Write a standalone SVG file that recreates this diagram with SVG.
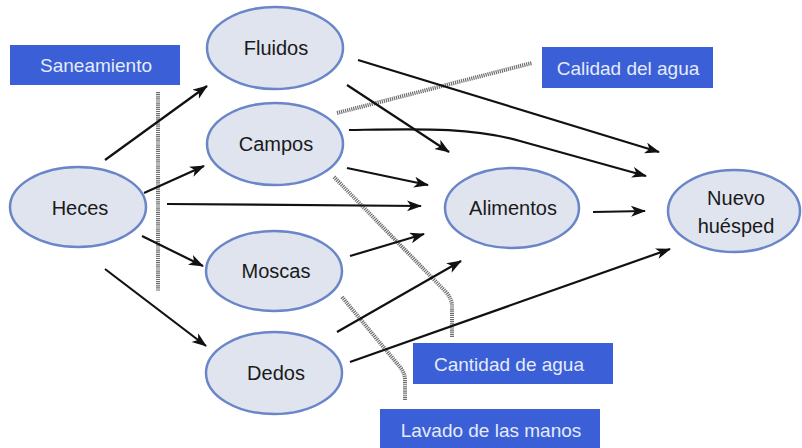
<svg xmlns="http://www.w3.org/2000/svg" width="802" height="448" viewBox="0 0 802 448">
<defs>
<marker id="ah" markerUnits="userSpaceOnUse" markerWidth="16" markerHeight="12" refX="14" refY="5.5" orient="auto">
<path d="M0,0 L15,5.5 L0,11 L4,5.5 z" fill="#111"/>
</marker>
<style>
.node ellipse{fill:#dfe4ee;stroke:#6a86c8;stroke-width:2.5}
.node text{font-family:"Liberation Sans",Arial,sans-serif;font-size:20px;fill:#1a1a1a;text-anchor:middle}
.box rect{fill:#3b5fd6}
.box text{font-family:"Liberation Sans",Arial,sans-serif;font-size:19px;fill:#e4ebfa;text-anchor:middle}
.hatch{fill:none;stroke:#6e6e6e;stroke-width:4;stroke-dasharray:1.2 0.9}
.arr{fill:none;stroke:#111;stroke-width:2.2;marker-end:url(#ah)}
</style>
</defs>
<rect width="802" height="448" fill="#ffffff"/>

<g id="barriers">
<path class="hatch" d="M158,92 L158,291"/>
<path class="hatch" d="M337,113 L532,63"/>
<path class="hatch" d="M334,177 L446,292 Q452,299 452,306 L452,337"/>
<path class="hatch" d="M342,297 L400,367 Q405,373 405,380 L405,400"/>
<path class="hatch" d="M281,232 L286,247" style="stroke-width:3;stroke:#555"/>
</g>

<g id="labels">
<g id="saneamiento" class="box"><rect x="10" y="45" width="170" height="40"/><text x="96" y="72">Saneamiento</text></g>
<g id="calidad" class="box"><rect x="542" y="47" width="171" height="41"/><text x="628" y="75">Calidad del agua</text></g>
<g id="cantidad" class="box"><rect x="413" y="343" width="200" height="41"/><text x="509" y="371">Cantidad de agua</text></g>
<g id="lavado" class="box"><rect x="380" y="409" width="220" height="45"/><text x="491" y="437">Lavado de las manos</text></g>
</g>

<g id="connectors">
<path class="arr" d="M105,160 L207,86"/>
<path class="arr" d="M144,193 L204,166"/>
<path class="arr" d="M167,204 L421,206"/>
<path class="arr" d="M142,236 L203,266"/>
<path class="arr" d="M105,269 L206,346"/>
<path class="arr" d="M358,60 L659,152"/>
<path class="arr" d="M347,85 L449,152"/>
<path class="arr" d="M349,130 C420,129 470,127 520,141 L646,176"/>
<path class="arr" d="M347,168 L428,185"/>
<path class="arr" d="M350,256 L424,234"/>
<path class="arr" d="M337,332 L461,261"/>
<path class="arr" d="M350,362 L670,249"/>
<path class="arr" d="M593,212 L645,211"/>
</g>

<g id="heces" class="node"><ellipse cx="78" cy="207" rx="68" ry="40"/><text x="80" y="215">Heces</text></g>
<g id="fluidos" class="node"><ellipse cx="275" cy="48" rx="68" ry="41"/><text x="276" y="55">Fluidos</text></g>
<g id="campos" class="node"><ellipse cx="275" cy="144" rx="68" ry="41"/><text x="276" y="151">Campos</text></g>
<g id="moscas" class="node"><ellipse cx="274" cy="271" rx="68" ry="40"/><text x="276" y="278">Moscas</text></g>
<g id="dedos" class="node"><ellipse cx="274" cy="373" rx="68" ry="41"/><text x="276" y="380">Dedos</text></g>
<g id="alimentos" class="node"><ellipse cx="512" cy="208" rx="67" ry="40"/><text x="513" y="215">Alimentos</text></g>
<g id="nuevo" class="node"><ellipse cx="734" cy="211" rx="66" ry="41"/><text x="736" y="205">Nuevo</text><text x="736" y="233">huésped</text></g>
</svg>
